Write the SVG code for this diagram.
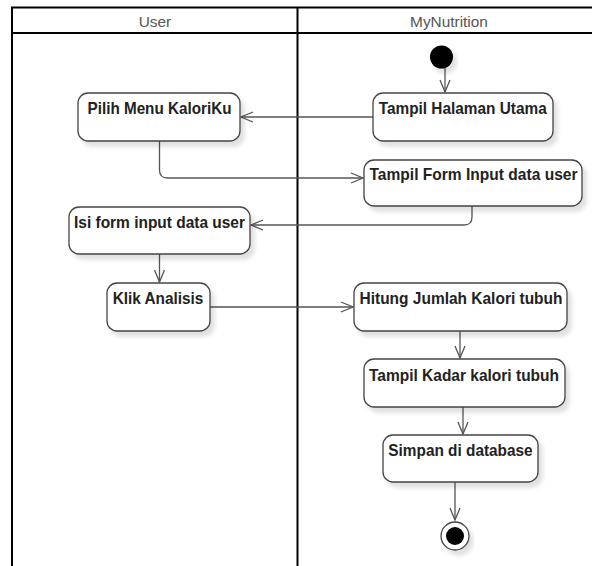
<svg xmlns="http://www.w3.org/2000/svg" width="592" height="566" viewBox="0 0 592 566">
<defs>
<style>
.lane{fill:none;stroke:#000;stroke-width:2}
.hdr{font-family:"Liberation Sans",Arial,sans-serif;font-size:15.4px;fill:#555;text-anchor:middle}
.box{fill:#fff;stroke:#444;stroke-width:1.3;filter:url(#sh)}
.lbl{font-family:"Liberation Sans",Arial,sans-serif;font-size:16.5px;font-weight:bold;fill:#222;text-anchor:middle}
.con{fill:none;stroke:#555;stroke-width:1.3;marker-end:url(#arr)}
</style>
<filter id="sh" x="-20%" y="-20%" width="140%" height="160%">
<feDropShadow dx="4" dy="5" stdDeviation="2" flood-color="#000" flood-opacity="0.12"/>
</filter>
<marker id="arr" viewBox="-13 -7 15 14" refX="0" refY="0" markerWidth="15" markerHeight="14" markerUnits="userSpaceOnUse" orient="auto">
<path d="M-12,-5 L0,0 L-12,5" fill="none" stroke="#555" stroke-width="1.3"/>
</marker>
</defs>
<rect width="592" height="566" fill="#fff"/>
<g id="swimlanes">
<rect class="lane" x="12" y="7.5" width="590" height="570"/>
<line class="lane" x1="12" y1="33" x2="602" y2="33"/>
<line class="lane" x1="297.5" y1="7.5" x2="297.5" y2="570"/>
<text class="hdr" x="155" y="27">User</text>
<text class="hdr" x="449" y="27">MyNutrition</text>
</g>
<g id="connectors">
<path class="con" d="M445,68 L445,92"/>
<path class="con" d="M373,117 L241,117"/>
<path class="con" d="M159.5,141 L159.5,170 Q159.5,178 167.5,178 L363,178"/>
<path class="con" d="M472,206 L472,217 Q472,225 464,225 L251,225"/>
<path class="con" d="M159.5,254 L159.5,282"/>
<path class="con" d="M210,307 L353,307"/>
<path class="con" d="M460,331 L460,358"/>
<path class="con" d="M463,407 L463,434"/>
<path class="con" d="M455,482 L455,520"/>
</g>
<g id="start">
<circle cx="441.5" cy="57" r="11.5" fill="#000" filter="url(#sh)"/>
</g>
<g id="pilih-menu">
<rect class="box" x="78" y="93" width="162" height="48" rx="10"/>
<text class="lbl" x="159.5" y="114" textLength="144" lengthAdjust="spacingAndGlyphs">Pilih Menu KaloriKu</text>
</g>
<g id="tampil-halaman">
<rect class="box" x="373" y="93" width="180" height="48" rx="10"/>
<text class="lbl" x="462.7" y="114" textLength="168" lengthAdjust="spacingAndGlyphs">Tampil Halaman Utama</text>
</g>
<g id="tampil-form">
<rect class="box" x="364" y="160" width="218" height="46" rx="10"/>
<text class="lbl" x="473.5" y="180" textLength="208" lengthAdjust="spacingAndGlyphs">Tampil Form Input data user</text>
</g>
<g id="isi-form">
<rect class="box" x="69" y="207" width="181" height="47" rx="10"/>
<text class="lbl" x="159.5" y="228" textLength="171" lengthAdjust="spacingAndGlyphs">Isi form input data user</text>
</g>
<g id="klik-analisis">
<rect class="box" x="107" y="283" width="103" height="48" rx="10"/>
<text class="lbl" x="158" y="304" textLength="90.7" lengthAdjust="spacingAndGlyphs">Klik Analisis</text>
</g>
<g id="hitung">
<rect class="box" x="354" y="283" width="213" height="48" rx="10"/>
<text class="lbl" x="461" y="304" textLength="203" lengthAdjust="spacingAndGlyphs">Hitung Jumlah Kalori tubuh</text>
</g>
<g id="tampil-kadar">
<rect class="box" x="364" y="359" width="201" height="48" rx="10"/>
<text class="lbl" x="464" y="381" textLength="190" lengthAdjust="spacingAndGlyphs">Tampil Kadar kalori tubuh</text>
</g>
<g id="simpan">
<rect class="box" x="383" y="435" width="155" height="47" rx="10"/>
<text class="lbl" x="460.5" y="456" textLength="144.3" lengthAdjust="spacingAndGlyphs">Simpan di database</text>
</g>
<g id="end">
<circle cx="455" cy="536" r="14" fill="#fff" stroke="#444" stroke-width="1.3" filter="url(#sh)"/>
<circle cx="455" cy="536" r="9" fill="#000"/>
</g>
</svg>
